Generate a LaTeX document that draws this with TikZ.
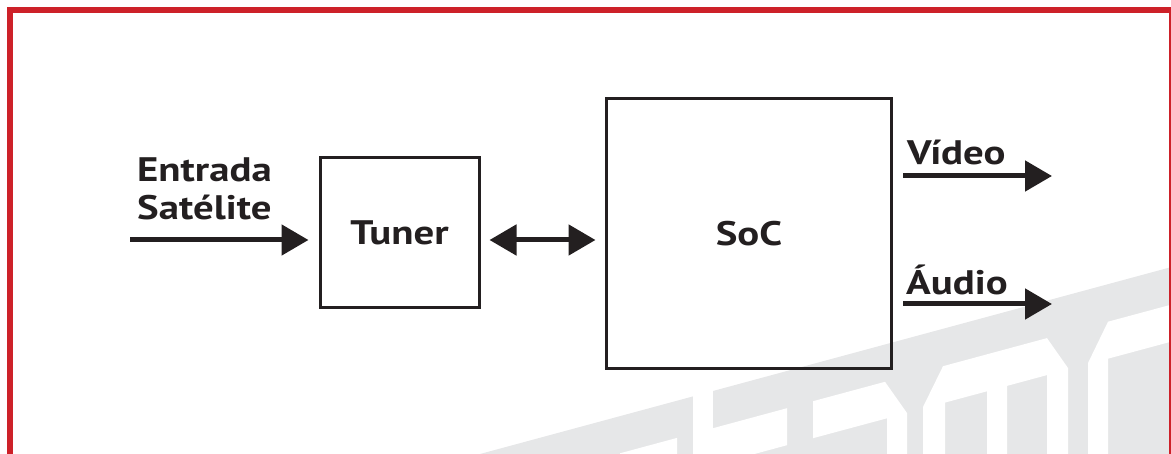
\documentclass[tikz,border=0pt]{standalone}
\usepackage{fontspec}
\usetikzlibrary{arrows.meta}
\newfontfamily\lblfont{PT Sans}[FakeStretch=1.2]
\definecolor{framered}{RGB}{205,33,41}
\definecolor{markgray}{RGB}{230,231,232}
\definecolor{inkcol}{RGB}{35,31,32}

\begin{document}
\begin{tikzpicture}[x=1pt, y=-1pt,
  blk/.style={draw=inkcol, line width=3pt, inner sep=0pt, text=inkcol,
    font=\lblfont\bfseries\fontsize{34}{38}\selectfont},
  lbl/.style={inner sep=0pt, text=inkcol, font=\lblfont\bfseries\fontsize{34}{38.3}\selectfont},
  sig/.style={draw=inkcol, line width=5pt, -{Triangle[length=27pt,width=30pt]}}]
  \useasboundingbox (0,0) rectangle (1171,454);
  % watermark in the corner
  \fill[markgray] (480,454) -- (1180,264.7) -- (1180,460) -- (480,460) -- cycle;
  \fill[white] (693,385) rectangle (713,460);
  \fill[white] (620,453.3) -- (677,437.9) -- (677,460) -- (620,460) -- cycle;
  \fill[white] (713,428.2) -- (787,408.2) -- (787,445.2) -- (713,465.2) -- cycle;
  \fill[white] (813,401.2) -- (885,381.8) -- (907,413) -- (907,460) -- (887,460)
    -- (887,418.3) -- (813,438.2) -- cycle;
  \fill[white] (923,460) -- (923,407) -- (943,366.2) -- (1047,338.1) -- (1068,368)
    -- (1068,460) -- (1047,460) -- (1047,375.1) -- (1007,385.9) -- (1007,460)
    -- (987,460) -- (987,391.3) -- (945,402.6) -- (945,460) -- cycle;
  \fill[white] (1088,460) -- (1088,363) -- (1108,321.7) -- (1180,302.3)
    -- (1180,339.3) -- (1108,358.7) -- (1108,460) -- cycle;
  % frame
  \draw[framered, line width=6pt] (9.5,10) rectangle (1172,470);

  % blocks
  \node[blk, minimum width=159pt, minimum height=150pt] (tuner) at (399.5,233) {Tuner};
  \node[blk, minimum width=285pt, minimum height=270pt] (soc) at (749,233.5) {SoC};
  \coordinate (src) at (130,240);
  \coordinate (vid) at (1052,176);
  \coordinate (aud) at (1052,304);

  \node[lbl, align=left, anchor=base west] (inlbl) at (137,220) {Entrada\\Satélite};
  \node[lbl, anchor=base west] (vidlbl) at (907,165) {Vídeo};
  \node[lbl, anchor=base west] (audlbl) at (906,295) {Áudio};

  \draw[sig, shorten >=10pt] (src) -- ([yshift=-7pt]tuner.west);
  \draw[sig, {Triangle[length=27pt,width=30pt]}-{Triangle[length=27pt,width=30pt]},
    shorten <=9pt, shorten >=9.5pt] ([yshift=-7pt]tuner.east) -- ([yshift=-6.5pt]soc.west);
  \draw[sig, shorten <=10pt] (soc.east |- vid) -- (vid);
  \draw[sig, shorten <=10pt] (soc.east |- aud) -- (aud);
\end{tikzpicture}
\end{document}
